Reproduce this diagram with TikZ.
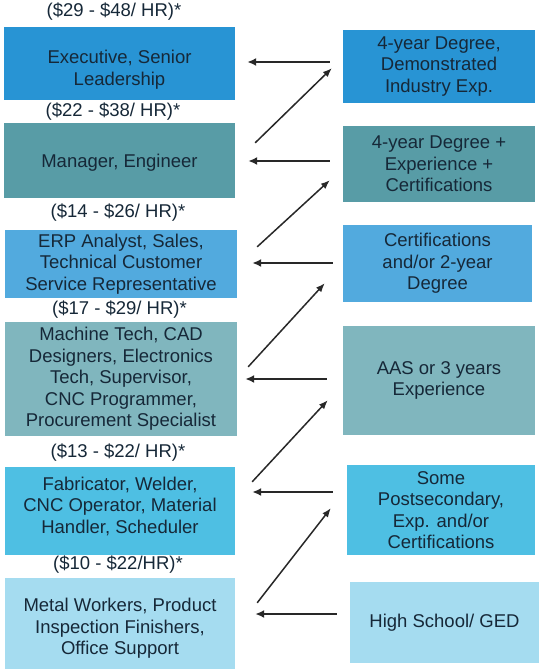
\documentclass[tikz,border=0pt]{standalone}
\usepackage{fontspec}
\setmainfont{Liberation Sans}
\usetikzlibrary{arrows.meta}
\definecolor{cA}{RGB}{40,148,212}
\definecolor{cB}{RGB}{88,156,166}
\definecolor{cC}{RGB}{82,170,222}
\definecolor{cD}{RGB}{128,182,190}
\definecolor{cE}{RGB}{78,191,227}
\definecolor{cF}{RGB}{165,220,240}
\definecolor{txt}{RGB}{22,40,56}
\definecolor{arr}{RGB}{40,40,40}
\begin{document}
\begin{tikzpicture}[x=1pt,y=-1pt,
  box/.style={draw=none, inner sep=0pt},
  btext/.style={align=center, inner sep=0pt, text=txt, font=\fontsize{18.5}{21.5}\selectfont},
  wage/.style={text=txt, inner sep=0pt, font=\fontsize{18.5}{21.5}\selectfont},
  harr/.style={draw=arr, line width=2pt, -{Latex[length=9pt,width=8pt]}},
  darr/.style={draw=arr, line width=1.5pt, -{Latex[length=9pt,width=7pt]}}]
\useasboundingbox[fill=white] (0,0) rectangle (539,671);

% left boxes
\node[box, fill=cA, minimum width=231pt, minimum height=73pt] (L1) at (119.5,63.5) {};
\node[box, fill=cB, minimum width=231pt, minimum height=75pt] (L2) at (119.5,160.5) {};
\node[box, fill=cC, minimum width=232pt, minimum height=68pt] (L3) at (121,264) {};
\node[box, fill=cD, minimum width=232pt, minimum height=114pt] (L4) at (121,379) {};
\node[box, fill=cE, minimum width=230pt, minimum height=88pt] (L5) at (120,511) {};
\node[box, fill=cF, minimum width=230pt, minimum height=91pt] (L6) at (120,623.5) {};

\node[btext] (L1t) at ([yshift=-6pt]L1.center) {Executive, Senior\\Leadership};
\node[btext] (L2t) at ([yshift=-2pt]L2.center) {Manager, Engineer};
\node[btext] (L3t) at (L3.center) {ERP Analyst, Sales,\\Technical Customer\\Service Representative};
\node[btext] (L4t) at (L4.center) {Machine Tech, CAD\\Designers, Electronics\\Tech, Supervisor,\\CNC Programmer,\\Procurement Specialist};
\node[btext] (L5t) at ([yshift=5pt]L5.center) {Fabricator, Welder,\\CNC Operator, Material\\Handler, Scheduler};
\node[btext] (L6t) at ([yshift=-5pt]L6.center) {Metal Workers, Product\\Inspection Finishers,\\Office Support};

% wage labels
\node[wage] (W1) at (114,12) {(\$29 - \$48/ HR)*};
\node[wage] (W2) at (113,112) {(\$22 - \$38/ HR)*};
\node[wage] (W3) at (118,213) {(\$14 - \$26/ HR)*};
\node[wage] (W4) at (119.5,310) {(\$17 - \$29/ HR)*};
\node[wage] (W5) at (118,453) {(\$13 - \$22/ HR)*};
\node[wage] (W6) at (118,565) {(\$10 - \$22/HR)*};

% right boxes
\node[box, fill=cA, minimum width=192pt, minimum height=73pt] (R1) at (439,66.5) {};
\node[box, fill=cB, minimum width=192pt, minimum height=76pt] (R2) at (439,164) {};
\node[box, fill=cC, minimum width=189pt, minimum height=77pt] (R3) at (437.5,263.5) {};
\node[box, fill=cD, minimum width=192pt, minimum height=109pt] (R4) at (439,380.5) {};
\node[box, fill=cE, minimum width=188pt, minimum height=90pt] (R5) at (441,510) {};
\node[box, fill=cF, minimum width=189pt, minimum height=81pt] (R6) at (444.5,622.5) {};

\node[btext] (R1t) at (R1.center) {4-year Degree,\\Demonstrated\\Industry Exp.};
\node[btext] (R2t) at (R2.center) {4-year Degree +\\Experience +\\Certifications};
\node[btext] (R3t) at (R3.center) {Certifications\\and/or 2-year\\Degree};
\node[btext] (R4t) at (R4.center) {AAS or 3 years\\Experience};
\node[btext] (R5t) at (R5.center) {Some\\Postsecondary,\\Exp. and/or\\Certifications};
\node[btext] (R6t) at (R6.center) {High School/ GED};

% horizontal arrows
\draw[harr, shorten <=13pt, shorten >=12pt] (R1.west |- 0,62) -- (L1.east |- 0,62);
\draw[harr, shorten <=13pt, shorten >=13pt] (R2.west |- 0,161) -- (L2.east |- 0,161);
\draw[harr, shorten <=10pt, shorten >=15pt] (R3.west |- 0,263) -- (L3.east |- 0,263);
\draw[harr, shorten <=16pt, shorten >=8pt] (R4.west |- 0,379) -- (L4.east |- 0,379);
\draw[harr, shorten <=14pt, shorten >=17pt] (R5.west |- 0,492) -- (L5.east |- 0,492);
\draw[harr, shorten <=13pt, shorten >=20pt] (R6.west |- 0,614) -- (L6.east |- 0,614);

% diagonal arrows
\draw[darr] ([shift={(20,20)}]L2.north east) -- ([shift={(-11,-35)}]R1.south west);
\draw[darr] ([shift={(20,17)}]L3.north east) -- ([shift={(-13,-22)}]R2.south west);
\draw[darr] ([shift={(11,45)}]L4.north east) -- ([shift={(-18,-19)}]R3.south west);
\draw[darr] ([shift={(17,15)}]L5.north east) -- ([shift={(-15,-35)}]R4.south west);
\draw[darr] ([shift={(22,25)}]L6.north east) -- ([shift={(-16,-47)}]R5.south west);
\end{tikzpicture}
\end{document}
